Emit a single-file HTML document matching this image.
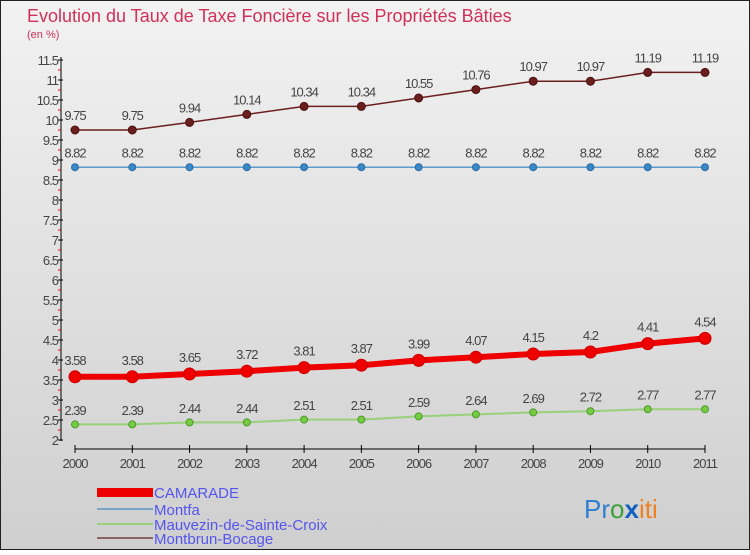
<!DOCTYPE html>
<html><head><meta charset="utf-8"><style>
body{margin:0;width:750px;height:550px;overflow:hidden;font-family:"Liberation Sans",sans-serif}
</style></head><body>
<svg id="c" width="750" height="550" xmlns="http://www.w3.org/2000/svg" font-family="Liberation Sans, sans-serif">
<defs><linearGradient id="bg" x1="0" y1="0" x2="0" y2="1"><stop offset="0" stop-color="#f2f2f2"/><stop offset="1" stop-color="#cfcfcf"/></linearGradient></defs>
<rect x="0.5" y="0.5" width="749" height="549" fill="url(#bg)" stroke="#222"/>
<text x="27" y="22" font-size="18" fill="#d0305a">Evolution du Taux de Taxe Foncière sur les Propriétés Bâties</text>
<text x="27" y="38" font-size="11" fill="#d0305a">(en %)</text>
<g id="axes"></g><g id="series"></g>
<g font-size="15" fill="#5555ee">
<rect x="97" y="488" width="56" height="9" fill="#ee0000"/>
<text x="154" y="498" fill="#5555ee">CAMARADE</text>
<line x1="97" y1="509" x2="153" y2="509" stroke="#79a6c8" stroke-width="2"/>
<text x="154" y="515" fill="#5555ee">Montfa</text>
<line x1="97" y1="524" x2="153" y2="524" stroke="#99d07a" stroke-width="2"/>
<text x="154" y="530" fill="#5555ee">Mauvezin-de-Sainte-Croix</text>
<line x1="97" y1="538" x2="153" y2="538" stroke="#8a6262" stroke-width="2"/>
<text x="154" y="544" fill="#5555ee">Montbrun-Bocage</text>
</g>
<text x="584" y="518" font-size="26"><tspan fill="#2f7fd0">Pr</tspan><tspan fill="#3aa03a">o</tspan><tspan fill="#1060c0" font-weight="bold">x</tspan><tspan fill="#f08020">iti</tspan></text>
</svg>
<script>
const years=[2000,2001,2002,2003,2004,2005,2006,2007,2008,2009,2010,2011];
const camarade=[3.58,3.58,3.65,3.72,3.81,3.87,3.99,4.07,4.15,4.2,4.41,4.54];
const montfa=[8.82,8.82,8.82,8.82,8.82,8.82,8.82,8.82,8.82,8.82,8.82,8.82];
const mauvezin=[2.39,2.39,2.44,2.44,2.51,2.51,2.59,2.64,2.69,2.72,2.77,2.77];
const montbrun=[9.75,9.75,9.94,10.14,10.34,10.34,10.55,10.76,10.97,10.97,11.19,11.19];
const yTicks=[2,2.5,3,3.5,4,4.5,5,5.5,6,6.5,7,7.5,8,8.5,9,9.5,10,10.5,11,11.5];
const NS="http://www.w3.org/2000/svg";
const xs=i=>75+i*(630/(years.length-1));
const ys=v=>440-(v-2)*40;
function mk(p,t,a){const e=document.createElementNS(NS,t);for(const k in a)e.setAttribute(k,a[k]);p.appendChild(e);return e;}
const ax=document.getElementById('axes');
const yl=mk(ax,'line',{x1:61,y1:57,x2:61,y2:441,stroke:'#000'});


yTicks.forEach(v=>{
 mk(ax,'line',{x1:58,y1:ys(v),x2:63,y2:ys(v),stroke:'#000'});
 if(v<11.5) mk(ax,'line',{x1:58,y1:ys(v+0.25),x2:61,y2:ys(v+0.25),stroke:'#e00'});
 const t=mk(ax,'text',{x:58,y:ys(v)+5,'font-size':13,'text-anchor':'end',fill:'#444','letter-spacing':'-1'});
 t.textContent=String(v);
 
 
});
const xl=mk(ax,'line',{x1:75,y1:449,x2:705,y2:449,stroke:'#000'});


years.forEach((y,i)=>{
 mk(ax,'line',{x1:xs(i),y1:445,x2:xs(i),y2:453,stroke:'#000'});
 const t=mk(ax,'text',{x:xs(i),y:468,'font-size':13,'text-anchor':'middle',fill:'#444','letter-spacing':'-1'});
 t.textContent=String(y);
 
 
});
const sg=document.getElementById('series');
function series(name,vals,color,lw,r,dot,stroke){
 const g=mk(sg,'g',{});
 
 
 const pl=mk(g,'polyline',{points:vals.map((v,i)=>xs(i)+','+ys(v)).join(' '),fill:'none',stroke:color,'stroke-width':lw});
 
 
 vals.forEach((v,i)=>{
  const c=mk(g,'circle',{cx:xs(i),cy:ys(v),r:r,fill:dot,stroke:stroke,'stroke-width':1});
  
  
  const t=mk(g,'text',{x:xs(i),y:ys(v)-(r+6),'font-size':13,'text-anchor':'middle',fill:'#444','letter-spacing':'-1'});
  t.textContent=String(v);
  
  
 });
}
series('montbrun',montbrun,'#6b1e1e',1.5,4,'#6b1e1e','#4a1010');
series('montfa',montfa,'#5f9ccc',1.5,3.5,'#3a88c8','#2a6aa0');
series('mauvezin',mauvezin,'#99d07a',2,3.5,'#77cc44','#4a9a2a');
series('camarade',camarade,'#ee0000',6,6,'#ee0000','#cc0000');
</script>
</body></html>
